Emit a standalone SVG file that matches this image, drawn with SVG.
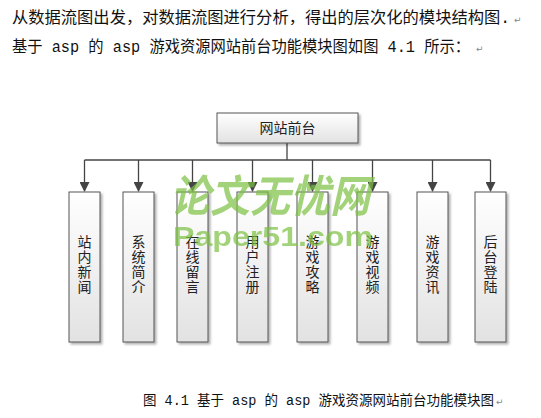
<svg xmlns="http://www.w3.org/2000/svg" width="541" height="418" viewBox="0 0 541 418">
<style>
.t{font-family:"Liberation Mono","Noto Sans CJK SC",monospace;fill:#111}
.pm{font-family:"DejaVu Sans",sans-serif;fill:#888;font-size:9px}
.box{fill:url(#g);stroke:#555;stroke-width:1}
.lbl{font-family:"Noto Sans CJK SC",sans-serif;font-size:14px;fill:#222;text-anchor:middle}
.ln{stroke:#444;stroke-width:1.3;fill:none}
.wm{font-family:"Liberation Sans","Noto Sans CJK SC",sans-serif;font-weight:bold;fill:#7cc142;opacity:0.7}
</style>
<defs>
<linearGradient id="g" x1="0" y1="0" x2="0" y2="1">
<stop offset="0" stop-color="#ffffff"/><stop offset="1" stop-color="#e2e2e2"/>
</linearGradient>
<marker id="a" markerWidth="10" markerHeight="10" refX="9" refY="5" orient="auto" markerUnits="userSpaceOnUse">
<path d="M0,0 L10,5 L0,10 z" fill="#444"/>
</marker>
<filter id="s" x="-20%" y="-20%" width="150%" height="150%"><feDropShadow dx="2" dy="2" stdDeviation="1.2" flood-color="#000" flood-opacity="0.3"/></filter>
</defs>
<rect width="541" height="418" fill="#fff"/>
<text class="t" x="12" y="23" font-size="16" textLength="498" lengthAdjust="spacingAndGlyphs">从数据流图出发，对数据流图进行分析，得出的层次化的模块结构图.</text>
<text class="pm" x="514" y="23">↵</text>
<text class="t" x="12" y="52" font-size="16" textLength="458" lengthAdjust="spacingAndGlyphs">基于 asp 的 asp 游戏资源网站前台功能模块图如图 4.1 所示：</text>
<text class="pm" x="476" y="52">↵</text>

<g id="connectors">
<line class="ln" x1="287" y1="143" x2="287" y2="160"/>
<line class="ln" x1="84.5" y1="160" x2="490.5" y2="160"/>
<line class="ln" x1="84.5" y1="160" x2="84.5" y2="191" marker-end="url(#a)"/>
<line class="ln" x1="138.5" y1="160" x2="138.5" y2="191" marker-end="url(#a)"/>
<line class="ln" x1="192.5" y1="160" x2="192.5" y2="191" marker-end="url(#a)"/>
<line class="ln" x1="252.5" y1="160" x2="252.5" y2="191" marker-end="url(#a)"/>
<line class="ln" x1="312.5" y1="160" x2="312.5" y2="191" marker-end="url(#a)"/>
<line class="ln" x1="372.5" y1="160" x2="372.5" y2="191" marker-end="url(#a)"/>
<line class="ln" x1="432.5" y1="160" x2="432.5" y2="191" marker-end="url(#a)"/>
<line class="ln" x1="490.5" y1="160" x2="490.5" y2="191" marker-end="url(#a)"/>
</g>

<g id="root"><rect class="box" filter="url(#s)" x="217" y="113" width="141" height="30"/><text class="lbl" x="287.5" y="133" font-size="15">网站前台</text></g>

<g id="n1"><rect class="box" filter="url(#s)" x="69" y="192" width="31" height="150"/><text class="lbl" x="84.5" y="247">站</text><text class="lbl" x="84.5" y="262">内</text><text class="lbl" x="84.5" y="277">新</text><text class="lbl" x="84.5" y="292">闻</text></g>
<g id="n2"><rect class="box" filter="url(#s)" x="123" y="192" width="31" height="150"/><text class="lbl" x="138.5" y="247">系</text><text class="lbl" x="138.5" y="262">统</text><text class="lbl" x="138.5" y="277">简</text><text class="lbl" x="138.5" y="292">介</text></g>
<g id="n3"><rect class="box" filter="url(#s)" x="177" y="192" width="31" height="150"/><text class="lbl" x="192.5" y="247">在</text><text class="lbl" x="192.5" y="262">线</text><text class="lbl" x="192.5" y="277">留</text><text class="lbl" x="192.5" y="292">言</text></g>
<g id="n4"><rect class="box" filter="url(#s)" x="237" y="192" width="31" height="150"/><text class="lbl" x="252.5" y="247">用</text><text class="lbl" x="252.5" y="262">户</text><text class="lbl" x="252.5" y="277">注</text><text class="lbl" x="252.5" y="292">册</text></g>
<g id="n5"><rect class="box" filter="url(#s)" x="297" y="192" width="31" height="150"/><text class="lbl" x="312.5" y="247">游</text><text class="lbl" x="312.5" y="262">戏</text><text class="lbl" x="312.5" y="277">攻</text><text class="lbl" x="312.5" y="292">略</text></g>
<g id="n6"><rect class="box" filter="url(#s)" x="357" y="192" width="31" height="150"/><text class="lbl" x="372.5" y="247">游</text><text class="lbl" x="372.5" y="262">戏</text><text class="lbl" x="372.5" y="277">视</text><text class="lbl" x="372.5" y="292">频</text></g>
<g id="n7"><rect class="box" filter="url(#s)" x="417" y="192" width="31" height="150"/><text class="lbl" x="432.5" y="247">游</text><text class="lbl" x="432.5" y="262">戏</text><text class="lbl" x="432.5" y="277">资</text><text class="lbl" x="432.5" y="292">讯</text></g>
<g id="n8"><rect class="box" filter="url(#s)" x="475" y="192" width="31" height="150"/><text class="lbl" x="490.5" y="247">后</text><text class="lbl" x="490.5" y="262">台</text><text class="lbl" x="490.5" y="277">登</text><text class="lbl" x="490.5" y="292">陆</text></g>

<g id="watermark">
<text class="wm" x="170" y="212" font-size="44" font-style="italic" textLength="200" lengthAdjust="spacingAndGlyphs">论文无忧网</text>
<text class="wm" x="173" y="246" font-size="28" textLength="200" lengthAdjust="spacingAndGlyphs">Paper51.com</text>
</g>

<text class="t" x="143" y="405" font-size="14" textLength="351" lengthAdjust="spacingAndGlyphs">图 4.1 基于 asp 的 asp 游戏资源网站前台功能模块图</text>
<text class="pm" x="496" y="405">↵</text>
</svg>
